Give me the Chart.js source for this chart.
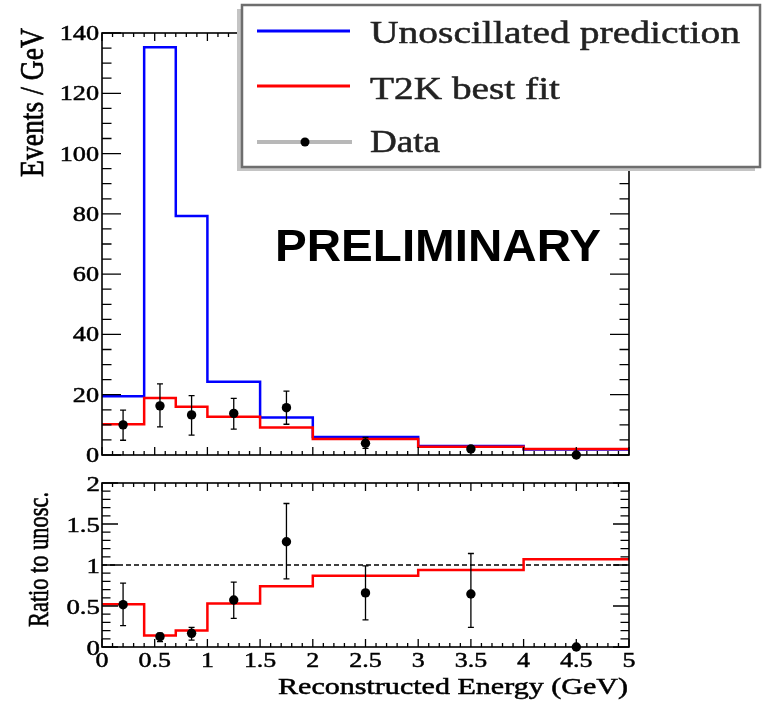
<!DOCTYPE html>
<html>
<head>
<meta charset="utf-8">
<script src="https://cdn.jsdelivr.net/npm/chart.js@4"></script>
<style>
  body { margin: 0; background: #fff; }
  #wrap { position: relative; width: 763px; height: 701px; }
  canvas { position: absolute; left: 0; }
</style>
</head>
<body>
<div id="wrap">
  <canvas id="topChart" width="763" height="470" style="top:0"></canvas>
  <canvas id="ratioChart" width="763" height="231" style="top:470px"></canvas>
</div>
<script>
// bin edges (GeV) and histogram contents (events / GeV)
const edges = [0, 0.4, 0.7, 1.0, 1.5, 2.0, 3.0, 4.0, 5.0];
const unoscPred = [19.5, 135.3, 79.3, 24.3, 12.4, 6.0, 3.0, 1.85];
const bestFit = [10.2, 18.9, 16.0, 12.7, 9.1, 5.3, 2.75, 1.98];

// data points with error bar ends
const dataX = [0.2, 0.55, 0.85, 1.25, 1.75, 2.5, 3.5, 4.5];
const dataY = [10.0, 16.3, 13.3, 13.8, 15.7, 3.9, 2.0, 0];
const dataHi = [14.9, 23.6, 19.7, 18.8, 21.2, 5.8, 2.9, 0];
const dataLo = [4.9, 9.3, 6.6, 8.6, 10.2, 2.2, 1.2, 0];

// ratio panel
const ratioFit = [0.52, 0.14, 0.2, 0.53, 0.74, 0.87, 0.94, 1.07];
const ratioY = [0.516, 0.126, 0.167, 0.573, 1.284, 0.66, 0.646, 0];
const ratioHi = [0.78, 0.17, 0.24, 0.79, 1.75, 0.99, 1.14, 0];
const ratioLo = [0.26, 0.065, 0.085, 0.35, 0.83, 0.33, 0.24, 0];
const refLine = 1;

// tick labels
const yTicksTop = [0, 20, 40, 60, 80, 100, 120, 140];
const yTicksRatio = [0, 0.5, 1, 1.5, 2];
const xTicks = [0, 0.5, 1, 1.5, 2, 2.5, 3, 3.5, 4, 4.5, 5];

const SERIF = '"Liberation Serif", "Times New Roman", serif';

function stepPts(vals) {
  const p = vals.map((v, i) => ({x: edges[i], y: v}));
  p.push({x: edges[edges.length - 1], y: vals[vals.length - 1]});
  return p;
}

function txt(ctx, s, x, y, o) {
  ctx.save();
  ctx.font = (o.bold ? 'bold ' : '') + o.size + 'px ' + (o.family || SERIF);
  ctx.fillStyle = o.color || '#000';
  ctx.strokeStyle = o.color || '#000';
  ctx.textAlign = o.align || 'left';
  ctx.textBaseline = 'alphabetic';
  ctx.translate(x, y);
  ctx.scale(o.sx || 1, 1);
  if (o.rot) ctx.rotate(o.rot);
  if (o.len) {
    const k = o.len / ctx.measureText(s).width;
    ctx.scale(k, 1);
  }
  ctx.fillText(s, 0, 0);
  if (!o.bold) {
    // the reference text is a bit heavier than plain Liberation Serif
    ctx.lineWidth = 0.5;
    ctx.strokeText(s, 0, 0);
  }
  ctx.restore();
}

// ROOT-like frame with inward ticks on all four sides
function drawFrame(chart, t) {
  const {ctx, chartArea: a, scales: {x, y}} = chart;
  ctx.save();
  ctx.strokeStyle = '#000';
  ctx.lineWidth = 1.3;
  ctx.beginPath();
  let n = Math.round((y.max - y.min) / t.yMinor);
  for (let i = 0; i <= n; i++) {
    const v = y.min + i * t.yMinor;
    const py = y.getPixelForValue(v);
    const L = (i % t.yEvery === 0) ? t.yMajLen : t.yMinLen;
    ctx.moveTo(a.left, py); ctx.lineTo(a.left + L, py);
    ctx.moveTo(a.right, py); ctx.lineTo(a.right - L, py);
  }
  n = Math.round((x.max - x.min) / 0.1);
  for (let i = 0; i <= n; i++) {
    const px = x.getPixelForValue(x.min + i * 0.1);
    const L = (i % 5 === 0) ? 8 : 4;
    ctx.moveTo(px, a.bottom); ctx.lineTo(px, a.bottom - L);
    ctx.moveTo(px, a.top); ctx.lineTo(px, a.top + L);
  }
  ctx.stroke();
  ctx.lineWidth = 1.6;
  ctx.strokeRect(a.left, a.top, a.right - a.left, a.bottom - a.top);
  ctx.restore();
}

function drawErrors(chart, xs, ys, hi, lo) {
  const {ctx, scales: {x, y}} = chart;
  ctx.save();
  ctx.strokeStyle = '#000';
  ctx.lineWidth = 1.3;
  ctx.beginPath();
  xs.forEach((xv, i) => {
    if (hi[i] === lo[i]) return;
    const px = x.getPixelForValue(xv);
    const ph = y.getPixelForValue(hi[i]);
    const pl = y.getPixelForValue(lo[i]);
    ctx.moveTo(px, ph); ctx.lineTo(px, pl);
    ctx.moveTo(px - 3, ph); ctx.lineTo(px + 3, ph);
    ctx.moveTo(px - 3, pl); ctx.lineTo(px + 3, pl);
  });
  ctx.stroke();
  ctx.restore();
}

const baseOpts = (pad, ymax) => ({
  responsive: false,
  animation: false,
  events: [],
  layout: {padding: pad},
  plugins: {legend: {display: false}, tooltip: {enabled: false}},
  scales: {
    x: {type: 'linear', min: 0, max: 5, display: false},
    y: {type: 'linear', min: 0, max: ymax, display: false}
  }
});

const histLine = (vals, color, order) => ({
  type: 'line',
  data: stepPts(vals),
  borderColor: color,
  borderWidth: 2.5,
  borderJoinStyle: 'miter',
  stepped: true,
  pointRadius: 0,
  fill: false,
  order: order
});

const points = (xs, ys) => ({
  type: 'scatter',
  data: xs.map((v, i) => ({x: v, y: ys[i]})),
  pointRadius: 4.7,
  pointStyle: 'circle',
  backgroundColor: '#000',
  borderColor: '#000',
  borderWidth: 0,
  showLine: false,
  clip: false,
  order: 0
});

new Chart(document.getElementById('topChart'), {
  type: 'line',
  data: {
    datasets: [
      points(dataX, dataY),
      histLine(bestFit, '#ff0000', 1),
      histLine(unoscPred, '#0000ff', 2)
    ]
  },
  options: baseOpts({left: 102, right: 134, top: 33, bottom: 15}, 140),
  plugins: [{
    id: 'topDecor',
    afterDatasetsDraw(chart) {
      drawErrors(chart, dataX, dataY, dataHi, dataLo);
      drawFrame(chart, {yMinor: 5, yEvery: 4, yMajLen: 19, yMinLen: 9.5});
    },
    afterDraw(chart) {
      const {ctx, scales: {y}} = chart;
      yTicksTop.forEach(v => {
        txt(ctx, String(v), 99, y.getPixelForValue(v) + 7, {size: 21, sx: 1.25, align: 'right'});
      });
      txt(ctx, 'Events / GeV', 43, 28, {size: 26, sx: 1.3, rot: -Math.PI / 2, len: 149, align: 'right'});
      txt(ctx, 'PRELIMINARY', 275, 261, {size: 44, bold: true, family: '"Liberation Sans", Arial, sans-serif', len: 326});

      // legend box
      ctx.save();
      ctx.fillStyle = '#c4c4c4';
      ctx.fillRect(237, 9, 518, 162);
      ctx.fillStyle = '#fff';
      ctx.fillRect(242, 5, 518, 162);
      ctx.strokeStyle = '#6e6e6e';
      ctx.lineWidth = 2.5;
      ctx.strokeRect(242, 5, 518, 162);
      ctx.lineWidth = 3;
      ctx.strokeStyle = '#0000ff';
      ctx.beginPath(); ctx.moveTo(257, 31); ctx.lineTo(350, 31); ctx.stroke();
      ctx.strokeStyle = '#ff0000';
      ctx.beginPath(); ctx.moveTo(257, 86); ctx.lineTo(350, 86); ctx.stroke();
      ctx.strokeStyle = '#b8b8b8';
      ctx.lineWidth = 4;
      ctx.beginPath(); ctx.moveTo(257, 142); ctx.lineTo(352, 142); ctx.stroke();
      ctx.fillStyle = '#000';
      ctx.beginPath(); ctx.arc(305, 142, 4.5, 0, Math.PI * 2); ctx.fill();
      ctx.restore();
      txt(ctx, 'Unoscillated prediction', 370, 43, {size: 32, len: 370, color: '#222'});
      txt(ctx, 'T2K best fit', 370, 99, {size: 32, len: 190, color: '#222'});
      txt(ctx, 'Data', 370, 152, {size: 32, len: 70, color: '#222'});
    }
  }]
});

new Chart(document.getElementById('ratioChart'), {
  type: 'line',
  data: {
    datasets: [
      points(dataX, ratioY),
      histLine(ratioFit, '#ff0000', 1)
    ]
  },
  options: baseOpts({left: 102, right: 134, top: 13, bottom: 54}, 2),
  plugins: [{
    id: 'ratioDecor',
    beforeDatasetsDraw(chart) {
      const {ctx, scales: {x, y}} = chart;
      ctx.save();
      ctx.strokeStyle = '#000';
      ctx.lineWidth = 1.5;
      ctx.setLineDash([5, 3]);
      ctx.beginPath();
      ctx.moveTo(x.getPixelForValue(0), y.getPixelForValue(refLine));
      ctx.lineTo(x.getPixelForValue(5), y.getPixelForValue(refLine));
      ctx.stroke();
      ctx.restore();
    },
    afterDatasetsDraw(chart) {
      drawErrors(chart, dataX, ratioY, ratioHi, ratioLo);
      drawFrame(chart, {yMinor: 0.1, yEvery: 5, yMajLen: 16, yMinLen: 8.5});
    },
    afterDraw(chart) {
      const {ctx, scales: {x, y}} = chart;
      yTicksRatio.forEach(v => {
        txt(ctx, String(v), 100, y.getPixelForValue(v) + 7.5, {size: 22, sx: 1.22, align: 'right'});
      });
      xTicks.forEach(v => {
        txt(ctx, String(v), x.getPixelForValue(v), 197, {size: 22, sx: 1.18, align: 'center'});
      });
      txt(ctx, 'Ratio to unosc.', 48, 22, {size: 23, sx: 1.3, rot: -Math.PI / 2, len: 135, align: 'right'});
      txt(ctx, 'Reconstructed Energy (GeV)', 628, 224, {size: 23, len: 350, align: 'right'});
    }
  }]
});
</script>
</body>
</html>
